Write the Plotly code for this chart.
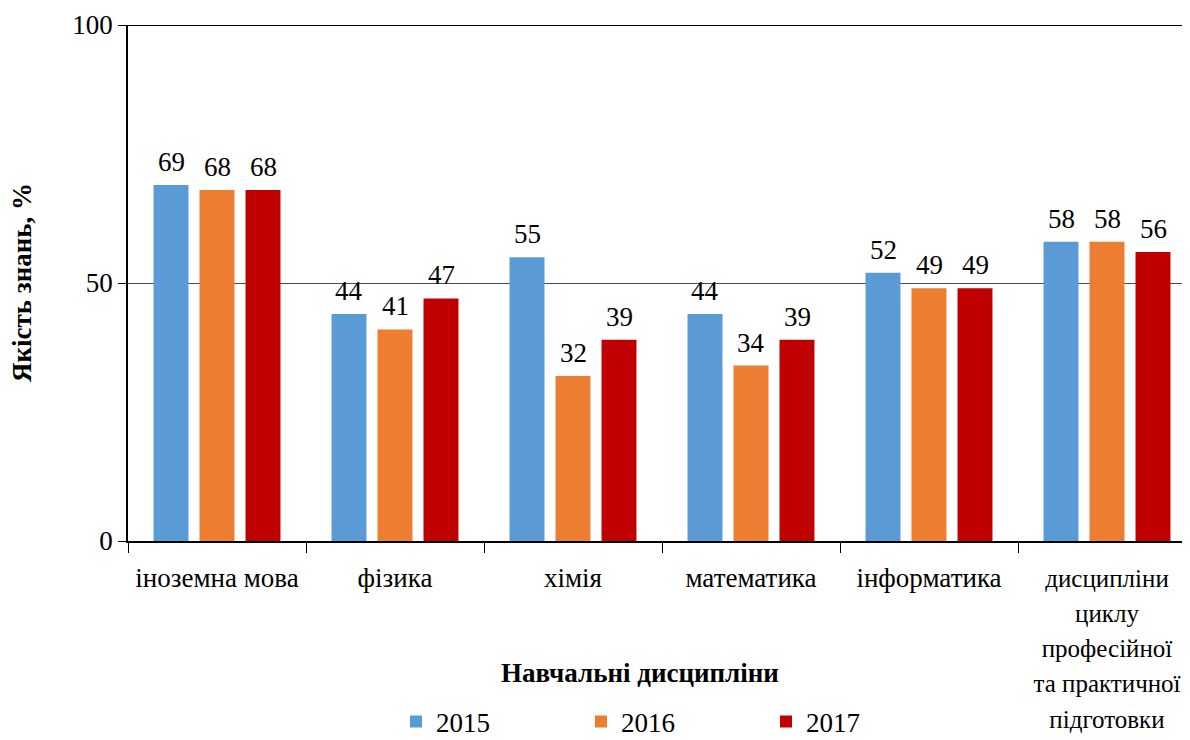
import plotly.graph_objects as go

categories = ["іноземна мова", "фізика", "хімія", "математика", "інформатика",
              "дисципліни<br>циклу<br>професійної<br>та практичної<br>підготовки"]
years = ["2015", "2016", "2017"]
v2015 = [69, 44, 55, 44, 52, 58]
v2016 = [68, 41, 32, 34, 49, 58]
v2017 = [68, 47, 39, 39, 49, 56]
colors = ["#5B9BD5", "#ED7D31", "#C00000"]
ytick_vals = [0, 50, 100]

FONT = "Times New Roman, Liberation Serif, serif"
FS = 27

# page body has an 8px default margin; compensate
OFF = 8
W, H = 1190 - OFF, 740 - OFF
L, T, PH = 128 - OFF, 25 - OFF, 516
PW = W - L
CAT_PX = 178
SLOT = 46  # px between bar centers in a group

# tick labels: long multi-line label rendered slightly smaller so it fits
tick_text = [c if "<br>" not in c else
             "<br>".join(f'<span style="font-size:25px">{p}</span>' for p in c.split("<br>"))
             for c in categories]

fig = go.Figure()
annotations = []
for i, (name, vals, c) in enumerate(zip(years, [v2015, v2016, v2017], colors)):
    fig.add_trace(go.Bar(
        x=categories, y=vals, name=name, marker_color=c, marker_line_width=0,
    ))
    for cat, v in zip(categories, vals):
        annotations.append(dict(
            x=cat, y=v, xref="x", yref="y", text=str(v), showarrow=False,
            xshift=(i - 1) * SLOT, yshift=23, yanchor="middle",
            font=dict(family=FONT, size=FS, color="black")))

annotations += [
    dict(text="<b>Якість знань, %</b>", textangle=-90, xref="paper", yref="paper",
         x=(22 - 128) / PW, y=0.5, xanchor="center", yanchor="middle", showarrow=False,
         font=dict(size=FS)),
    dict(text="<b>Навчальні дисципліни</b>", xref="paper", yref="paper",
         x=(640 - 128) / PW, y=-(673 - 541) / PH, xanchor="center", yanchor="middle",
         showarrow=False, font=dict(size=FS)),
]

fig.update_layout(
    width=W, height=H,
    margin=dict(l=L, r=0, t=T, b=H - T - PH, autoexpand=False),
    plot_bgcolor="white", paper_bgcolor="white",
    font=dict(family=FONT, size=FS, color="black"),
    barmode="group", bargap=1 - 3 * SLOT / CAT_PX, bargroupgap=0.24,
    showlegend=True,
    legend=dict(orientation="h", x=(396 - 128) / PW, xanchor="left",
                y=-(722 - 541) / PH, yanchor="middle",
                entrywidth=140, font=dict(size=FS), itemsizing="constant",
                traceorder="normal"),
    xaxis=dict(
        range=[-0.5, -0.5 + PW / CAT_PX], showline=True, linecolor="black", linewidth=1.5,
        ticks="outside", tickson="boundaries", ticklen=10, tickcolor="black",
        tickmode="array", tickvals=categories, ticktext=tick_text,
        tickfont=dict(size=FS), ticklabelstandoff=12, showgrid=False, automargin=False,
    ),
    yaxis=dict(
        range=[0, 100], tickvals=ytick_vals, showline=True, linecolor="black", linewidth=1.5,
        ticks="outside", ticklen=8, tickcolor="black", tickfont=dict(size=FS),
        showgrid=True, gridcolor="#4a4a4a", gridwidth=1.2, zeroline=False, automargin=False,
    ),
    shapes=[dict(type="line", xref="paper", yref="y", x0=0, x1=1, y0=100, y1=100,
                 line=dict(color="black", width=1.8), layer="above")],
    annotations=annotations,
)

fig.write_html("out.html")
